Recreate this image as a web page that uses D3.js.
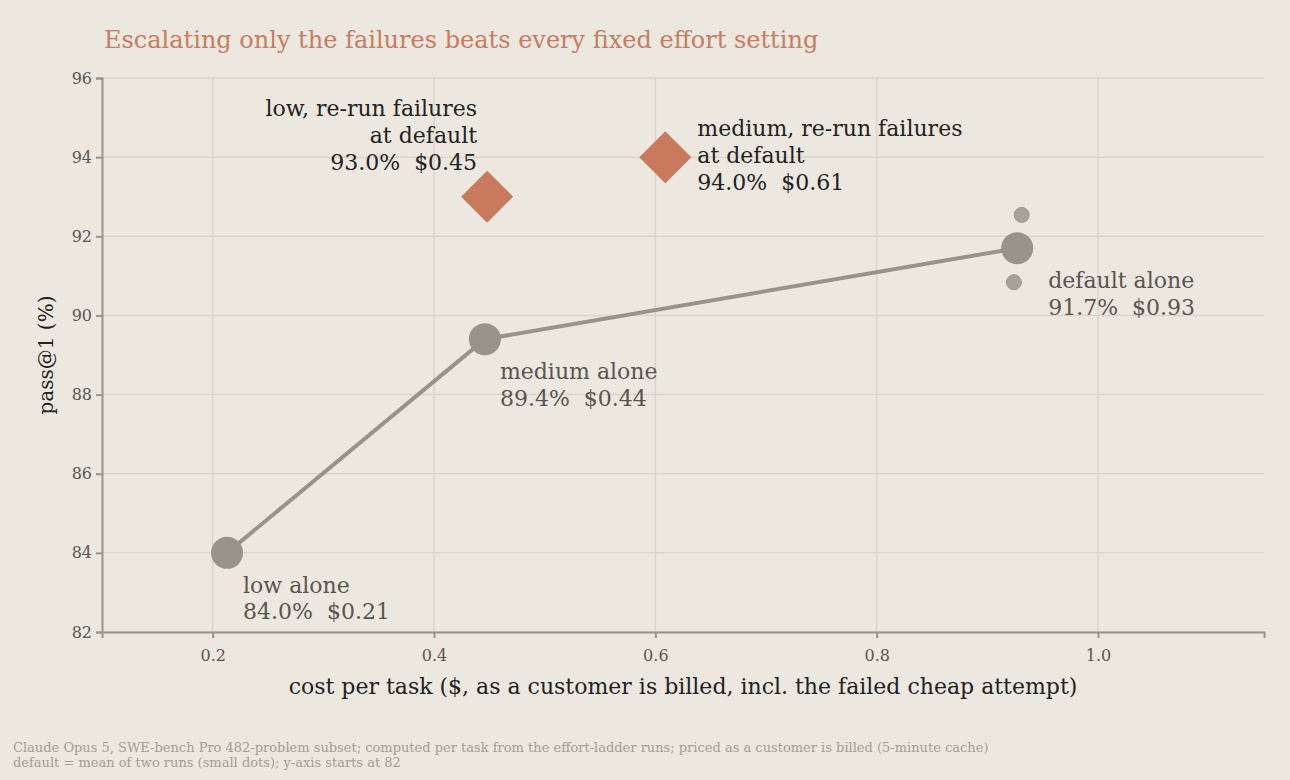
<!DOCTYPE html>
<html>
<head>
<meta charset="utf-8">
<script src="https://cdn.jsdelivr.net/npm/d3@7"></script>
<style>
  body { margin: 0; background: #ece7df; }
  svg { display: block; font-family: Georgia, "DejaVu Serif", serif; }
  svg text { white-space: pre; }
</style>
</head>
<body>
<svg id="chart" width="1290" height="780"></svg>
<script>
// effort-ladder results: cost ($/task) vs pass@1 (%)
var aloneNames = ['low alone', 'medium alone', 'default alone']
var aloneCost = [0.213, 0.446, 0.927]
var alonePass = [84.0, 89.4, 91.7]
var aloneLabel = ['84.0%  $0.21', '89.4%  $0.44', '91.7%  $0.93']

// two separate default runs (small dots)
var runCost = [0.931, 0.924]
var runPass = [92.54, 90.84]

var escNames = [['low, re-run failures', 'at default'], ['medium, re-run failures', 'at default']]
var escCost = [0.448, 0.609]
var escPass = [93.0, 94.0]
var escLabel = ['93.0%  $0.45', '94.0%  $0.61']

var xTicks = [0.2, 0.4, 0.6, 0.8, 1.0]
var yTicks = [82, 84, 86, 88, 90, 92, 94, 96]

var svg = d3.select('#chart')
var m = {left: 102, right: 1264, top: 78, bottom: 632}

var x = d3.scaleLinear().domain([0.1, 1.15]).range([m.left, m.right])
var y = d3.scaleLinear().domain([82, 96]).range([m.bottom, m.top])

var grid = svg.append('g')
grid.selectAll('line.v').data(xTicks).join('line')
  .attr('x1', d => x(d)).attr('x2', d => x(d))
  .attr('y1', m.top).attr('y2', m.bottom)
  .attr('stroke', '#dbd5c9').attr('stroke-width', 1.5)
grid.selectAll('line.h').data(yTicks).join('line')
  .attr('x1', m.left).attr('x2', m.right)
  .attr('y1', d => y(d)).attr('y2', d => y(d))
  .attr('stroke', '#dbd5c9').attr('stroke-width', 1.5)

var xAxis = svg.append('g').attr('transform', 'translate(0,' + m.bottom + ')')
  .call(d3.axisBottom(x).tickValues(xTicks).tickFormat(d3.format('.1f')).tickSizeOuter(0).tickSize(6).tickPadding(12))
var yAxis = svg.append('g').attr('transform', 'translate(' + m.left + ',0)')
  .call(d3.axisLeft(y).tickValues(yTicks).tickSizeOuter(0).tickSize(6).tickPadding(4))

svg.selectAll('.domain').attr('stroke', '#9a958b').attr('stroke-width', 2)
svg.selectAll('.tick line').attr('stroke', '#9a958b').attr('stroke-width', 2)
svg.selectAll('.tick text').attr('fill', '#5b5650').attr('font-size', 16)
  .attr('font-family', 'Georgia, "DejaVu Serif", serif')

// axis titles
svg.append('text')
  .attr('x', (m.left + m.right) / 2).attr('y', 694)
  .attr('text-anchor', 'middle').attr('font-size', 22).attr('fill', '#222')
  .text('cost per task ($, as a customer is billed, incl. the failed cheap attempt)')
svg.append('text')
  .attr('transform', 'translate(53,' + (m.top + m.bottom) / 2 + ') rotate(-90)')
  .attr('text-anchor', 'middle').attr('font-size', 20).attr('fill', '#222')
  .text('pass@1 (%)')

// title
svg.append('text')
  .attr('x', 104).attr('y', 48).attr('font-size', 24).attr('fill', '#c97c5d')
  .text('Escalating only the failures beats every fixed effort setting')

// line through the fixed settings
var alone = aloneNames.map((n, i) => ({n, c: aloneCost[i], p: alonePass[i], l: aloneLabel[i]}))
svg.append('path')
  .datum(alone)
  .attr('d', d3.line().x(d => x(d.c)).y(d => y(d.p)))
  .attr('fill', 'none').attr('stroke', '#99948a').attr('stroke-width', 4)

svg.selectAll('circle.run').data(runCost).join('circle')
  .attr('cx', d => x(d)).attr('cy', (d, i) => y(runPass[i]))
  .attr('r', 7.5).attr('fill', '#a7a297').attr('stroke', '#9d988d').attr('stroke-width', 1)

svg.selectAll('circle.alone').data(alone).join('circle')
  .attr('cx', d => x(d.c)).attr('cy', d => y(d.p))
  .attr('r', 16).attr('fill', '#99948a')

var aloneOff = [[16, 40], [15, 40], [31, 40]]
alone.forEach((d, i) => {
  var t = svg.append('text')
    .attr('x', x(d.c) + aloneOff[i][0]).attr('y', y(d.p) + aloneOff[i][1])
    .attr('font-size', 22).attr('fill', '#5a554f')
  t.append('tspan').attr('x', x(d.c) + aloneOff[i][0]).text(d.n)
  t.append('tspan').attr('x', x(d.c) + aloneOff[i][0]).attr('dy', 26.5).text(d.l)
})

// escalation strategies
var esc = escNames.map((n, i) => ({n, c: escCost[i], p: escPass[i], l: escLabel[i]}))
svg.selectAll('path.esc').data(esc).join('path')
  .attr('d', d3.symbol().type(d3.symbolSquare).size(1352))
  .attr('transform', d => 'translate(' + x(d.c) + ',' + y(d.p) + ') rotate(45)')
  .attr('fill', '#c97a5c')

var escPos = [{dx: -10, dy: -81, anchor: 'end'}, {dx: 32, dy: -21, anchor: 'start'}]
esc.forEach((d, i) => {
  var o = escPos[i]
  var tx = x(d.c) + o.dx
  var t = svg.append('text')
    .attr('x', tx).attr('y', y(d.p) + o.dy)
    .attr('text-anchor', o.anchor).attr('font-size', 22).attr('fill', '#222')
  t.append('tspan').attr('x', tx).text(d.n[0])
  t.append('tspan').attr('x', tx).attr('dy', 27).text(d.n[1])
  t.append('tspan').attr('x', tx).attr('dy', 27).text(d.l)
})

// footnote
var foot = svg.append('text').attr('x', 13).attr('y', 752)
  .attr('font-size', 13).attr('fill', '#a39d93')
foot.append('tspan').attr('x', 13)
  .text('Claude Opus 5, SWE-bench Pro 482-problem subset; computed per task from the effort-ladder runs; priced as a customer is billed (5-minute cache)')
foot.append('tspan').attr('x', 13).attr('dy', 15)
  .text('default = mean of two runs (small dots); y-axis starts at 82')
</script>
</body>
</html>
